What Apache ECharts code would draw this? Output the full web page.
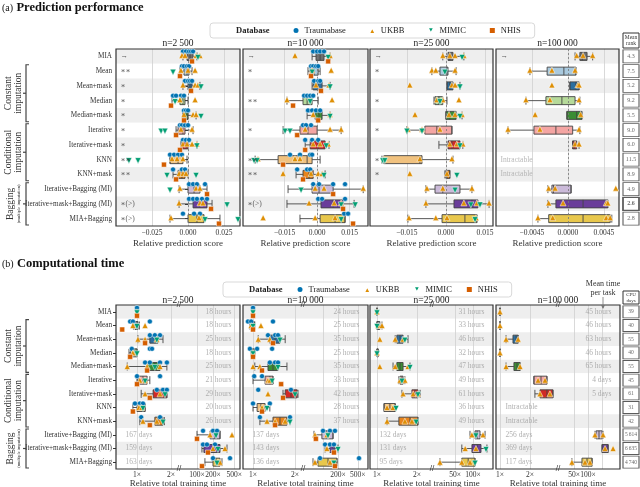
<!DOCTYPE html>
<html>
<head>
<meta charset="utf-8">
<script src="https://cdn.jsdelivr.net/npm/echarts@6/dist/echarts.min.js"></script>
<style>
  html, body { margin: 0; padding: 0; background: #fff; }
  #chart { width: 640px; height: 487px; }
</style>
</head>
<body>
<div id="chart"></div>
<script>
// ---- data ----
const methods = ['MIA', 'Mean', 'Mean+mask', 'Median', 'Median+mask', 'Iterative', 'Iterative+mask',
  'KNN', 'KNN+mask', 'Iterative+Bagging (MI)', 'Iterative+mask+Bagging (MI)', 'MIA+Bagging'];
const databases = ['Traumabase', 'UKBB', 'MIMIC', 'NHIS'];
const sampleSizes = ['n=2\u2009500', 'n=10\u2009000', 'n=25\u2009000', 'n=100\u2009000'];

const meanRank = ['4.3', '7.5', '5.2', '9.2', '5.5', '9.0', '6.0', '11.5', '8.9', '4.9', '2.6', '2.8'];
const cpuDays = ['39', '40', '55', '40', '55', '45', '61', '31', '42', '5\u2009614', '6\u2009635', '4\u2009740'];

const scoreTicks = [[-0.025, 0, 0.025], [-0.015, 0, 0.015], [-0.015, 0, 0.015], [-0.0045, 0, 0.0045]];
const timeTicksLow = [1, 2];
const timeTicksHigh = [[100, 200, 500], [100, 200, 500], [50, 100], [50, 100, 200]];
const scoreRefLine = [0.0014, 0.0009, 0.0004, 0.0019];

const scoreMarks2500 = ['→', '∗∗', '∗', '∗', '∗', '∗', '∗', '∗∗', '∗∗', '', '∗(>)', '∗(>)'];
const scoreMarks10000 = ['→', '∗', '', '∗∗', '', '∗', '', '∗∗', '∗∗', '', '∗(>)', ''];
const scoreMarks25000 = ['→', '∗', '', '∗', '', '∗', '', '∗', '∗', '', '', ''];
const scoreMarks100000 = ['→', '', '', '', '', '', '', 'Intractable', 'Intractable', '', '', ''];

// box stats: [min, Q1, median, Q3, max]
const scoreBox2500 = [
  [-0.0035, -0.0007, 0.0014, 0.0035, 0.0062], [-0.0056, -0.0028, -0.0007, 0.0007, 0.0028],
  [-0.0035, 0.0, 0.0014, 0.0028, 0.0083], [-0.0111, -0.0056, -0.0035, -0.0021, 0.0],
  [-0.0035, -0.0035, -0.0007, 0.0, 0.0056], [-0.0083, -0.0069, -0.0035, -0.0021, 0.0035],
  [-0.0049, -0.0042, -0.0014, 0.0, 0.0062], [-0.0125, -0.0125, -0.0069, -0.0035, -0.0007],
  [-0.0104, -0.0069, -0.0042, -0.0021, 0.0], [-0.0062, 0.0, 0.0042, 0.0083, 0.0132],
  [-0.0062, 0.0035, 0.0083, 0.0132, 0.0167], [-0.0125, 0.0, 0.0062, 0.0111, 0.0222]
];
const scoreTrauma2500 = [
  [-0.0035, -0.0014, 0.0007, 0.0021, 0.0035], [-0.0042, -0.0028, -0.0007, 0.0007], [-0.0021, 0.0, 0.0014, 0.0028],
  [-0.0104, -0.0083, -0.0049, -0.0028], [-0.0028, -0.0014, 0.0], [-0.0056, -0.0042, -0.0021, 0.0],
  [-0.0035, -0.0014, 0.0007], [-0.0125, -0.0097, -0.0069, -0.0042], [-0.0104, -0.0042, -0.0021],
  [0.0007, 0.0035, 0.0062, 0.0118], [0.0007, 0.0035, 0.0062, 0.0097, 0.0132], [-0.0035, 0.0042, 0.0083]
];
const scoreUKBB2500 = [
  [-0.0042, -0.0021, 0.0056, 0.0083], [-0.0049, 0.0, 0.0049], [-0.0035, 0.0049, 0.0069], [-0.0056, 0.0049],
  [-0.0028, 0.0035, 0.0056], [-0.0049, 0.0028], [-0.0035, -0.0007, 0.0028, 0.0062], [-0.0111, -0.0076, -0.0035],
  [-0.0062, -0.0035, -0.0014], [-0.0056, 0.0056, 0.0083], [-0.0062, 0.0083, 0.0104], [-0.0118, 0.0076]
];
const scoreMIMIC2500 = [[0.0069], [-0.0104], [0.009], [-0.009], [0.009], [-0.0187, -0.016], [0.0062],
  [-0.041, -0.0347], [-0.0146, 0.0056], [-0.0125], [0.0271], [0.0118, 0.0347]];
const scoreNHIS2500 = [[0.0028], [-0.0056], [0.0021], [-0.0118], [-0.0028], [-0.0083], [-0.0056],
  [-0.0167], [-0.0083], [0.0132], [0.016], [0.0215]];

const scoreBox10000 = [
  [-0.0023, -0.0005, 0.0014, 0.0032, 0.006], [-0.0042, -0.0032, -0.0014, 0.0005, 0.0014],
  [-0.0023, -0.0018, 0.0005, 0.0023, 0.006], [-0.0139, -0.0065, -0.0046, -0.0023, 0.0005],
  [-0.0046, -0.0009, 0.0009, 0.0023, 0.006], [-0.0157, -0.0079, -0.0042, 0.0, 0.0111],
  [-0.0055, -0.0032, 0.0005, 0.0037, 0.0055], [-0.0286, -0.018, -0.0046, -0.0023, 0.0014],
  [-0.0097, -0.0065, -0.0037, -0.0018, 0.0037], [-0.0134, -0.0023, 0.0009, 0.0074, 0.0213],
  [-0.0139, 0.0018, 0.0074, 0.012, 0.0171], [-0.0079, 0.0014, 0.0083, 0.0129, 0.0129]
];
const scoreTrauma10000 = [
  [-0.0018, 0.0, 0.0014, 0.0032], [-0.0028, -0.0018, -0.0005, 0.0005], [-0.0014, 0.0005, 0.0014],
  [-0.006, -0.0046, -0.0032, -0.0018], [-0.0042, -0.0023, -0.0005, 0.0014], [-0.0065, -0.0051, -0.0028],
  [-0.0055, -0.0023, 0.0005], [-0.0125, -0.0079, -0.0032, -0.0023], [-0.0092, -0.0046, -0.0032],
  [-0.0018, 0.0009, 0.0074, 0.0129], [0.0005, 0.0023, 0.0129], [0.0125, 0.0143]
];
const scoreUKBB10000 = [
  [-0.0102, 0.006], [-0.0023, 0.0065], [-0.0005, 0.0055], [-0.0139, 0.0069], [-0.0018, 0.006],
  [-0.0055, 0.006, 0.0111], [-0.0018, 0.0014, 0.0051], [-0.0273, -0.0102, -0.0079],
  [-0.0157, -0.0028, 0.0005, 0.0023], [-0.0009, 0.0032, 0.0213], [-0.0037, 0.0079, 0.0111], [-0.0249, -0.0009, 0.0083]
];
const scoreMIMIC10000 = [[0.0051], [-0.0023], [0.006], [-0.0032], [0.006], [-0.0148, -0.0125], [0.0042],
  [-0.0291, -0.0277], [0.0032], [-0.0074], [0.0111, 0.0176], [0.0111]];
const scoreNHIS10000 = [[0.0051], [-0.0028], [0.0018], [-0.0111], [0.0005], [-0.0092], [-0.0055],
  [-0.0157], [-0.0065], [0.0074], [0.012], [0.0166]];

const scoreBox25000 = [
  [-0.0012, 0.0008, 0.0015, 0.0027, 0.0069], [-0.0054, -0.0023, 0.0004, 0.0008, 0.0039],
  [0.0004, 0.0004, 0.0015, 0.0027, 0.0054], [-0.0046, -0.0042, -0.0027, -0.0012, 0.0004],
  [0.0, 0.0, 0.0015, 0.0039, 0.0062], [-0.015, -0.0081, -0.0035, 0.0023, 0.0023],
  [-0.0027, 0.0008, 0.0023, 0.0054, 0.0065], [-0.0246, -0.0239, -0.01, -0.0092, 0.0027],
  [-0.0004, 0.0, 0.0004, 0.0015, 0.0015], [-0.0077, -0.0042, -0.0012, 0.0054, 0.01],
  [-0.0077, 0.0031, 0.01, 0.0123, 0.0166], [-0.0146, -0.0015, 0.0073, 0.0119, 0.0119]
];
const scoreUKBB25000 = [
  [-0.0012, 0.0015, 0.0035, 0.0069], [-0.0054, -0.0039, 0.0035], [-0.0139, 0.0023, 0.0035],
  [-0.0035, -0.0012, 0.005], [-0.0119, 0.0012, 0.0035, 0.0062], [-0.0146, -0.0092, -0.0023],
  [0.0015, 0.0042, 0.0065], [-0.0239, -0.01, 0.0023], [-0.0139, 0.0004], [-0.0073, -0.0012, 0.01],
  [-0.0077, 0.0069, 0.0119, 0.0166], [-0.0142, -0.0039, 0.0004, 0.0116]
];
const scoreMIMIC25000 = [[0.0062], [-0.0004], [0.0054], [-0.0023], [0.0054], [-0.015, -0.0092], [0.0054],
  [-0.0243, -0.0235], [0.0042], [0.0035], [0.0096, 0.0131], [0.0112]];

const scoreBox100000 = [
  [0.0009, 0.0015, 0.0018, 0.0024, 0.0031], [-0.00475, -0.0026, -0.0005, 0.001, 0.001],
  [0.00025, 0.00025, 0.001, 0.0014, 0.0014], [-0.00525, -0.00275, -0.00075, 0.0009, 0.0015],
  [-0.000125, -0.000125, 0.0011, 0.00175, 0.00175], [-0.0075, -0.00425, -0.0015, 0.0006, 0.0015],
  [0.0006, 0.0006, 0.0008, 0.0011, 0.0014], null, null,
  [-0.0025, -0.002, -0.0018, 0.0004, 0.0004], [-0.0025, -0.0015, 0.0019, 0.005, 0.005],
  [-0.00375, -0.0024, 0.0019, 0.0053, 0.0055]
];
const scoreUKBB100000 = [
  [0.0011, 0.0019, 0.0031], [-0.00475, -0.002, 0.0009], [-0.002, 0.00125, 0.0014], [-0.00525, -0.00225, 0.0014],
  [-0.0041, 0.0016], [-0.0075, -0.0035, 0.0014], [0.0009, 0.0014], [], [],
  [-0.0024, -0.0016, 0.006], [-0.0024, -0.0006, 0.0048, 0.005], [-0.00375, -0.0019, 0.0048, 0.0053]
];

// relative training time (x)
const timeBox2500 = [
  [1, 1, 1, 1, 1], [0.93, 0.96, 1.0, 1.02, 1.05], [1.02, 1.3, 1.44, 1.53, 1.7], [0.85, 0.88, 0.96, 1.0, 1.0],
  [0.82, 1.23, 1.44, 1.6, 1.84], [1.0, 1.02, 1.13, 1.23, 1.3], [1.09, 1.39, 1.6, 1.84, 1.84],
  [0.92, 1.0, 1.04, 1.18, 1.18], [1.06, 1.44, 1.53, 1.7, 1.75], [100, 176, 218, 271, 271],
  [124, 135, 200, 271, 367], [141, 200, 228, 271, 295]
];
const timeTrauma2500 = [[1.0], [0.87, 0.92, 1.3], [1.3, 1.44, 1.6], [0.9, 1.3, 1.36], [1.18, 1.3, 1.6, 1.84],
  [1.0, 1.6], [1.5, 1.7, 1.84], [0.96, 1.06, 1.13], [1.09, 1.6], [130, 200, 238], [130, 154, 218], [200, 418]];
const timeUKBB2500 = [[1.0], [0.92, 1.18], [1.02, 1.18, 1.5], [0.92], [0.82, 1.23, 1.6], [1.06, 1.18], [1.18, 1.6],
  [1.04, 1.1], [1.13, 1.5], [176, 455], [200, 336], [248, 271]];
const timeMIMIC2500 = [[1.0], [1.0], [1.5], [1.0], [1.44], [1.18], [1.77], [1.13], [1.7], [228], [248], [238]];
const timeNHIS2500 = [[1.0], [0.74], [1.18], [0.87], [1.23], [1.0], [1.3], [0.92], [1.3], [100], [161], [124]];

const timeBox10000 = [
  [1, 1, 1, 1, 1], [0.95, 0.97, 1.0, 1.02, 1.03], [1.09, 1.32, 1.44, 1.56, 1.7], [0.97, 0.98, 1.0, 1.03, 1.03],
  [1.03, 1.28, 1.39, 1.51, 1.75], [1.0, 1.22, 1.32, 1.39, 1.39], [1.64, 1.7, 1.87, 2.07, 2.1],
  [1.0, 1.07, 1.14, 1.22, 1.32], [1.12, 1.39, 1.56, 1.75, 1.84], [66, 95, 120, 159, 159],
  [110, 138, 159, 174, 200], [63, 79, 126, 191, 191]
];
const timeTrauma10000 = [[1.0], [0.92, 0.97, 1.39], [1.28, 1.44, 1.51], [0.95, 1.07, 1.37], [1.32, 1.44, 1.51],
  [1.02, 1.16], [1.09, 1.87], [1.0, 1.32], [1.12, 1.84], [100, 138, 174], [110, 138, 166], [87, 528]];
const timeUKBB10000 = [[1.0], [0.97, 1.14], [1.09, 1.32], [1.0], [1.0, 1.12], [1.28, 1.32], [1.28], [1.16],
  [1.26, 1.44, 1.7], [69, 120], [120], [69, 138]];
const timeMIMIC10000 = [[1.0], [1.0], [1.56], [1.0], [1.51], [1.37], [2.0], [1.26], [1.84], [126], [200], [166]];
const timeNHIS10000 = [[1.0], [1.0], [1.39], [1.0], [1.16], [1.59], [1.64], [1.16], [1.44], [72], [166], [174]];

const timeBox25000 = [
  [1, 1, 1, 1, 1], [1.0, 1.0, 1.02, 1.05, 1.09], [1.37, 1.41, 1.49, 1.57, 1.71], [1.0, 1.0, 1.0, 1.02, 1.02],
  [1.32, 1.41, 1.49, 1.57, 1.77], [1.46, 1.49, 1.54, 1.57, 1.62], [1.54, 1.83, 1.93, 2.03, 2.11],
  [1.13, 1.13, 1.25, 1.37, 1.37], [1.19, 1.46, 1.77, 2.03, 2.03], [89, 108, 117, 131, 159],
  [65, 96, 117, 136, 171], [28, 65, 83, 108, 108]
];
const timeUKBB25000 = [[1.0], [1.02, 1.09], [1.05, 1.37, 1.57], [1.0], [1.05, 1.37, 1.71], [1.49, 1.62],
  [1.57, 1.87, 2.03], [1.19, 1.32], [1.19, 1.62, 1.83], [96, 147], [74, 112], [28, 65, 89]];
const timeMIMIC25000 = [[1.0], [1.0], [1.62], [1.0], [1.77], [1.54], [2.03], [1.39], [1.97], [112], [165], [108]];

const timeBox100000 = [
  [1, 1, 1, 1, 1], [1, 1, 1, 1, 1], [1.15, 1.35, 1.45, 1.52, 1.52], [1, 1, 1, 1, 1],
  [1.15, 1.38, 1.48, 1.59, 1.59], [2.19, 2.19, 2.58, 2.96, 2.96], [2.24, 2.52, 2.96, 3.4, 3.4], null, null,
  [141, 149, 172, 200, 210], [200, 200, 232, 270, 270], [45, 74, 95, 122, 122]
];
const timeUKBB100000 = [[1.0], [1.0], [1.15, 1.52], [1.0], [1.15, 1.59], [2.41, 2.83], [2.52, 3.17], [], [],
  [141, 210], [232, 345], [45, 86, 110]];

const timeText2500 = ['18 hours', '18 hours', '25 hours', '18 hours', '25 hours', '21 hours', '29 hours', '20 hours', '26 hours', '167 days', '159 days', '163 days'];
const timeText10000 = ['24 hours', '25 hours', '35 hours', '25 hours', '35 hours', '33 hours', '42 hours', '28 hours', '37 hours', '137 days', '143 days', '136 days'];
const timeText25000 = ['31 hours', '33 hours', '46 hours', '32 hours', '47 hours', '49 hours', '61 hours', '36 hours', '49 hours', '132 days', '131 days', '95 days'];
const timeText100000 = ['45 hours', '46 hours', '63 hours', '46 hours', '65 hours', '4 days', '5 days', 'Intractable', 'Intractable', '256 days', '369 days', '117 days'];

// ---- styles / layout ----
const FONT = '"Liberation Serif", "DejaVu Serif", serif';
const methodColors = ['#6f6f6f', '#a9c9de', '#2b6fa0', '#b6da9a', '#3b8d34', '#f4a5a3', '#d12a26',
  '#f1c27f', '#e8841c', '#cbbad9', '#6a3d9a', '#e8c74c'];
const dbStyles = [
  { color: '#0173b2', symbol: 'circle', size: 5 },
  { color: '#de8f05', symbol: 'triangle', size: 6 },
  { color: '#029e73', symbol: 'path://M0,0 L10,0 L5,9 Z', size: 6 },
  { color: '#d55e00', symbol: 'rect', size: 5 }
];
const PX = [[116, 240], [243, 368], [370, 493], [496, 619]];
const TOP_Y = [49, 226];
const BOT_Y = [305, 469];
const scoreRange = [[-0.05, 0.0361], [-0.0342, 0.0235], [-0.0292, 0.0181], [-0.009, 0.0064]];
const scoreDecimals = [3, 3, 3, 4];
const timeSplit = [179, 303, 432, 558];
const timeRangeLow = [[0.652, 2.356], [0.848, 2.28], [0.886, 2.59], [0.912, 3.82]];
const timeRangeHigh = [[45.9, 644], [39.7, 800], [20.6, 216], [22.6, 486]];

const grids = [], xAxes = [], yAxes = [], series = [], graphic = [];

function addGrid(r, xa, ya, extra) {
  grids.push(Object.assign({ left: r[0], top: r[1], width: r[2] - r[0], height: r[3] - r[1],
    containLabel: false, outerBoundsMode: 'none' }, extra || {}));
  const gi = grids.length - 1;
  xAxes.push(Object.assign({ gridIndex: gi }, xa));
  yAxes.push(Object.assign({ gridIndex: gi }, ya));
  return { xAxisIndex: xAxes.length - 1, yAxisIndex: yAxes.length - 1 };
}

function catAxis(showLabels) {
  return {
    type: 'category', data: methods, inverse: true,
    axisLine: { show: false },
    axisTick: { show: showLabels, length: 3, alignWithLabel: true, lineStyle: { color: '#333' } },
    axisLabel: { show: showLabels, fontSize: 7.2, color: '#333', margin: 4, fontFamily: FONT },
    splitLine: { show: false },
    splitArea: { show: true, areaStyle: { color: ['#eeeeee', '#ffffff'] } }
  };
}

function frameGrid(r, name) {
  return addGrid(r,
    { type: 'value', min: 0, max: 1, axisLine: { show: false }, axisTick: { show: false },
      axisLabel: { show: false }, splitLine: { show: false },
      name: name || '', nameLocation: 'middle', nameGap: 10,
      nameTextStyle: { fontFamily: FONT, fontSize: 9, color: '#333' } },
    { type: 'category', data: methods, inverse: true, show: false },
    { show: true, borderColor: '#333', borderWidth: 1.2, backgroundColor: 'transparent', z: 3 });
}

function boxSeries(box, ax, keep, width, ref) {
  const s = {
    type: 'boxplot', layout: 'horizontal', xAxisIndex: ax.xAxisIndex, yAxisIndex: ax.yAxisIndex,
    silent: true, z: 3, boxWidth: [width, width],
    data: box.map((b, i) => (b && keep(b))
      ? { value: b, itemStyle: { color: methodColors[i], borderColor: '#444', borderWidth: 0.9 } }
      : '-')
  };
  if (ref !== undefined) {
    s.markLine = { silent: true, symbol: 'none', label: { show: false },
      lineStyle: { color: '#777', type: [2, 2], width: 0.8 }, data: [{ xAxis: ref }] };
  }
  return s;
}

function pointSeries(d, lists, ax, keep, dy) {
  const data = [];
  lists.forEach((vals, row) => vals.forEach(v => { if (keep(v)) data.push([v, row]); }));
  const st = dbStyles[d];
  return {
    type: 'scatter', name: databases[d], xAxisIndex: ax.xAxisIndex, yAxisIndex: ax.yAxisIndex,
    data, symbol: st.symbol, symbolSize: st.size, symbolOffset: [0, dy], z: 5, silent: true,
    itemStyle: { color: st.color, borderColor: '#fff', borderWidth: 0.5, opacity: 1 }
  };
}

function labelSeries(items, ax) {
  return {
    type: 'scatter', xAxisIndex: ax.xAxisIndex, yAxisIndex: ax.yAxisIndex, symbolSize: 1, silent: true, z: 6,
    itemStyle: { color: 'rgba(0,0,0,0)' },
    data: items.map(it => ({ value: [it.x, it.row], label: { show: true, position: it.side, distance: 0,
      formatter: it.text, color: it.color, fontSize: it.size, fontFamily: FONT } }))
  };
}

function text(x, y, t, style, extra) {
  graphic.push(Object.assign({ type: 'text', x, y, z: 10, silent: true,
    style: Object.assign({ text: t, fill: '#222', fontFamily: FONT, fontSize: 9,
      align: 'center', verticalAlign: 'middle', textAlign: 'center', textVerticalAlign: 'middle' }, style) }, extra || {}));
}

// ---- (a) prediction performance ----
const topPanels = [
  { box: scoreBox2500, pts: [scoreTrauma2500, scoreUKBB2500, scoreMIMIC2500, scoreNHIS2500], marks: scoreMarks2500 },
  { box: scoreBox10000, pts: [scoreTrauma10000, scoreUKBB10000, scoreMIMIC10000, scoreNHIS10000], marks: scoreMarks10000 },
  { box: scoreBox25000, pts: [[], scoreUKBB25000, scoreMIMIC25000, []], marks: scoreMarks25000 },
  { box: scoreBox100000, pts: [[], scoreUKBB100000, [], []], marks: scoreMarks100000 }
];
const topDy = [-5, -1, 1, 5];

topPanels.forEach((p, k) => {
  const r = [PX[k][0], TOP_Y[0], PX[k][1], TOP_Y[1]];
  const dec = scoreDecimals[k];
  const ax = addGrid(r, {
    type: 'value', min: scoreRange[k][0], max: scoreRange[k][1],
    axisLine: { show: false },
    axisTick: { show: false, customValues: scoreTicks[k] },
    axisLabel: { customValues: scoreTicks[k], fontSize: 7.5, color: '#333', margin: 3, fontFamily: FONT,
      formatter: v => (v < -1e-12 ? '\u2212' : '') + Math.abs(v).toFixed(dec) },
    splitLine: { show: true, lineStyle: { color: '#cfcfcf', width: 0.8 } },
    name: 'Relative prediction score', nameLocation: 'middle', nameGap: 13,
    nameTextStyle: { fontFamily: FONT, fontSize: 9, color: '#333' }
  }, catAxis(k === 0));
  series.push(boxSeries(p.box, ax, () => true, 8, scoreRefLine[k]));
  p.pts.forEach((lst, d) => { if (lst.length) series.push(pointSeries(d, lst, ax, () => true, topDy[d])); });
  const fr = frameGrid(r);
  const W = r[2] - r[0];
  const items = [];
  p.marks.forEach((t, i) => {
    if (!t) return;
    const intr = t === 'Intractable';
    items.push({ x: 4 / W, row: i, text: t, side: 'right', color: intr ? '#a8a8a8' : '#333', size: 7.5 });
  });
  series.push(labelSeries(items, fr));
  text((r[0] + r[2]) / 2, 43, sampleSizes[k], { fontSize: 9.5 });
});

// mean rank column
const rankAx = addGrid([623, TOP_Y[0], 639, TOP_Y[1]],
  { type: 'value', min: 0, max: 1, show: false },
  { type: 'category', data: methods, inverse: true, show: false });
const bestRank = Math.min(...meanRank.map(Number));
series.push({
  type: 'scatter', xAxisIndex: rankAx.xAxisIndex, yAxisIndex: rankAx.yAxisIndex, silent: true,
  symbol: 'rect', symbolSize: [16, 13], z: 4,
  data: meanRank.map((v, i) => ({ value: [0.5, i],
    itemStyle: { color: '#fff', borderColor: '#333', borderWidth: Number(v) === bestRank ? 1.6 : 1 },
    label: { show: true, position: 'inside', formatter: v, fontSize: 6, fontFamily: FONT, color: '#444',
      fontWeight: Number(v) === bestRank ? 'bold' : 'normal' } }))
});
graphic.push({ type: 'rect', shape: { x: 623, y: 33, width: 16, height: 15 },
  style: { fill: '#fff', stroke: '#333', lineWidth: 1 }, z: 9, silent: true });
text(631, 40.5, 'Mean\nrank', { fontSize: 5.5, lineHeight: 6, fill: '#333' });

// ---- (b) computational time ----
const botPanels = [
  { box: timeBox2500, pts: [timeTrauma2500, timeUKBB2500, timeMIMIC2500, timeNHIS2500], texts: timeText2500 },
  { box: timeBox10000, pts: [timeTrauma10000, timeUKBB10000, timeMIMIC10000, timeNHIS10000], texts: timeText10000 },
  { box: timeBox25000, pts: [[], timeUKBB25000, timeMIMIC25000, []], texts: timeText25000 },
  { box: timeBox100000, pts: [[], timeUKBB100000, [], []], texts: timeText100000 }
];
const botDy = [-4, 0, 1, 4];

function timeAxis(range, ticks) {
  return {
    type: 'log', logBase: 10, min: range[0], max: range[1],
    axisLine: { show: false },
    axisTick: { show: false, customValues: ticks },
    axisLabel: { customValues: ticks, fontSize: 7.5, color: '#333', margin: 2, fontFamily: FONT,
      formatter: v => Math.round(v * 100) / 100 + '\u00d7' },
    splitLine: { show: true, lineStyle: { color: '#cfcfcf', width: 0.8 } }
  };
}

botPanels.forEach((p, k) => {
  const split = timeSplit[k];
  const rLow = [PX[k][0], BOT_Y[0], split, BOT_Y[1]];
  const rHigh = [split, BOT_Y[0], PX[k][1] + (k === 3 ? 1 : 0), BOT_Y[1]];
  const cut = Math.sqrt(timeRangeLow[k][1] * timeRangeHigh[k][0]);
  const low = v => v < cut;
  const high = v => v >= cut;
  const axL = addGrid(rLow, timeAxis(timeRangeLow[k], timeTicksLow), catAxis(k === 0));
  const axH = addGrid(rHigh, timeAxis(timeRangeHigh[k], timeTicksHigh[k]), catAxis(false));
  series.push(boxSeries(p.box, axL, b => low(b[2]), 8));
  series.push(boxSeries(p.box, axH, b => high(b[2]), 8));
  p.pts.forEach((lst, d) => {
    if (!lst.length) return;
    series.push(pointSeries(d, lst, axL, low, botDy[d]));
    series.push(pointSeries(d, lst, axH, high, botDy[d]));
  });
  const r = [PX[k][0], BOT_Y[0], PX[k][1] + (k === 3 ? 1 : 0), BOT_Y[1]];
  const fr = frameGrid(r, 'Relative total training time');
  const W = r[2] - r[0];
  const items = p.texts.map((t, i) => {
    const left = i >= 9 || t === 'Intractable';
    return { x: left ? 9 / W : 1 - 8 / W, row: i, text: t, side: left ? 'right' : 'left', color: '#9c9c9c', size: 7.5 };
  });
  series.push(labelSeries(items, fr));
  text((r[0] + r[2]) / 2, 300, sampleSizes[k], { fontSize: 9.5 });
  text(split, BOT_Y[1], '//', { fontSize: 8, fontWeight: 'bold', fill: '#222' });
  text(split, BOT_Y[0], '//', { fontSize: 8, fontWeight: 'bold', fill: '#222' });
});

// CPU days column
const cpuAx = addGrid([623, BOT_Y[0], 639, BOT_Y[1]],
  { type: 'value', min: 0, max: 1, show: false },
  { type: 'category', data: methods, inverse: true, show: false });
series.push({
  type: 'scatter', xAxisIndex: cpuAx.xAxisIndex, yAxisIndex: cpuAx.yAxisIndex, silent: true,
  symbol: 'rect', symbolSize: [16, 12], z: 4,
  data: cpuDays.map((v, i) => ({ value: [0.5, i],
    itemStyle: { color: '#fff', borderColor: '#333', borderWidth: 1 },
    label: { show: true, position: 'inside', formatter: v, fontSize: 5.5, fontFamily: FONT, color: '#444' } }))
});
graphic.push({ type: 'rect', shape: { x: 623, y: 291, width: 16, height: 13 },
  style: { fill: '#fff', stroke: '#333', lineWidth: 1 }, z: 9, silent: true });
text(631, 297.5, 'CPU\ndays', { fontSize: 5, lineHeight: 5.5, fill: '#333' });
text(603, 288, 'Mean time\nper task', { fontSize: 8, lineHeight: 9, fill: '#333' });
graphic.push({ type: 'polyline', shape: { points: [[603, 297], [603, 308]] },
  style: { stroke: '#777', lineWidth: 0.8 }, z: 9, silent: true });
graphic.push({ type: 'polygon', shape: { points: [[601, 305], [605, 305], [603, 309]] },
  style: { fill: '#777' }, z: 9, silent: true });

// ---- titles, brackets ----
function title(y, tag, label) {
  graphic.push({ type: 'text', x: 2, y, z: 10, silent: true, style: {
    text: '{a|' + tag + '} {b|' + label + '}', fill: '#111', align: 'left', verticalAlign: 'middle',
    textAlign: 'left', textVerticalAlign: 'middle',
    rich: { a: { fontFamily: FONT, fontSize: 10, fill: '#111' },
            b: { fontFamily: FONT, fontSize: 12.5, fontWeight: 'bold', fill: '#111' } } } });
}
title(8, '(a)', 'Prediction performance');
title(264, '(b)', 'Computational time');

function bracket(y0, y1, label, small) {
  const x = 26;
  graphic.push({ type: 'polyline', silent: true, z: 9,
    shape: { points: [[x + 3, y0 + 1], [x, y0 + 1], [x, y1 - 1], [x + 3, y1 - 1]] },
    style: { stroke: '#444', lineWidth: 1.2, fill: null } });
  const ym = (y0 + y1) / 2;
  graphic.push({ type: 'polyline', silent: true, z: 9,
    shape: { points: [[x - 3, ym], [x, ym]] }, style: { stroke: '#444', lineWidth: 1.2 } });
  if (small) {
    graphic.push({ type: 'text', x: 13, y: ym, rotation: Math.PI / 2, z: 10, silent: true, style: {
      text: '{a|' + label + '}\n{b|' + small + '}', align: 'center', verticalAlign: 'middle',
      textAlign: 'center', textVerticalAlign: 'middle',
      rich: { a: { fontFamily: FONT, fontSize: 9.5, fill: '#333', align: 'center', lineHeight: 11 },
              b: { fontFamily: FONT, fontSize: 4.5, fill: '#333', align: 'center', lineHeight: 6 } } } });
  } else {
    text(13, ym, label, { fontSize: 9.5, lineHeight: 10, fill: '#333' }, { rotation: Math.PI / 2 });
  }
}
[[TOP_Y, 177 / 12], [BOT_Y, 164 / 12]].forEach(([Y, h]) => {
  bracket(Y[0] + h, Y[0] + 5 * h, 'Constant\nimputation');
  bracket(Y[0] + 5 * h, Y[0] + 9 * h, 'Conditional\nimputation');
  bracket(Y[0] + 9 * h, Y[1], 'Bagging', '(multiple imputation)');
});

// legend dummy entry
series.push({ type: 'scatter', name: 'Database', data: [], xAxisIndex: 0, yAxisIndex: 0, symbol: 'none' });

function legend(left, top, gap) {
  return {
    left, top, orient: 'horizontal', itemWidth: 7, itemHeight: 7, itemGap: gap, selectedMode: false,
    padding: [3, 14, 3, 14], borderColor: '#d9d9d9', borderWidth: 1, borderRadius: 3, backgroundColor: '#fff',
    textStyle: { fontFamily: FONT, fontSize: 8.5, color: '#222' },
    data: [{ name: 'Database', icon: 'none', textStyle: { fontWeight: 'bold', fontSize: 8.5 } }].concat(databases)
  };
}

const chart = echarts.init(document.getElementById('chart'));
chart.setOption({
  animation: false,
  backgroundColor: '#fff',
  textStyle: { fontFamily: FONT },
  legend: [legend(210, 23, 22), legend(223, 282, 13)],
  grid: grids,
  xAxis: xAxes,
  yAxis: yAxes,
  series,
  graphic
});
window.addEventListener('resize', () => chart.resize());
</script>
</body>
</html>
